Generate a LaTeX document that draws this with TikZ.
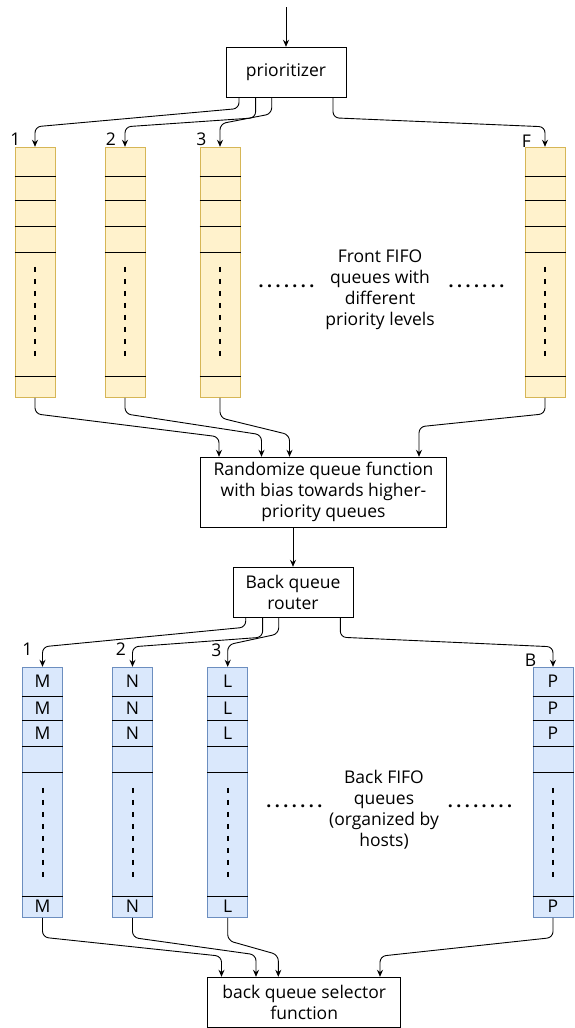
\documentclass[tikz,border=0pt]{standalone}
\usepackage{fontspec}
\setmainfont{Open Sans}
\usetikzlibrary{arrows.meta}
\definecolor{frontfill}{HTML}{FFF2CC}
\definecolor{frontline}{HTML}{D6B656}
\definecolor{backfill}{HTML}{DAE8FC}
\definecolor{backline}{HTML}{6C8EBF}
\begin{document}
\begin{tikzpicture}[x=1pt, y=-1pt,
    every node/.style={font=\fontsize{17.5}{21}\selectfont, inner sep=0pt},
    box/.style={draw, line width=1pt, align=center},
    frontq/.style={draw=frontline, fill=frontfill, line width=1pt, minimum width=40pt, minimum height=250pt},
    backq/.style={draw=backline, fill=backfill, line width=1pt, minimum width=40pt, minimum height=250pt},
    cut/.style={line width=1pt},
    skip/.style={line width=2pt, dash pattern=on 5pt off 7pt},
    dotrow/.style={font=\fontsize{17.5}{21}\selectfont\bfseries\addfontfeature{LetterSpace=20}},
    link/.style={-{Stealth[length=7pt,width=6pt]}, line width=0.9pt, rounded corners=6pt}]
      \useasboundingbox (0,0) rectangle (574,1028);
      % boxes
      \node[box, minimum width=120pt, minimum height=50pt] (prio) at (286,72.3) {prioritizer};
      \node[box, minimum width=246pt, minimum height=70pt] (rand) at (323.5,492.3)
        {Randomize queue function\\with bias towards higher-\\priority queues};
      \node[box, minimum width=120pt, minimum height=50pt] (router) at (293,592.3) {Back queue\\router};
      \node[box, minimum width=193pt, minimum height=50pt] (sel) at (304.2,1002.3)
        {back queue selector\\function};
      \coordinate (src) at (286,7);
      \draw[link] (src) -- (prio);
      \draw[link] (rand.south -| router.north) -- (router.north);
      % front queues
      \foreach \q/\x in {f1/35, f2/125, f3/220, fF/545} {
        \node[frontq] (\q) at (\x,272.3) {};
        \foreach \d in {30,54,80,105.4,230}
          \draw[cut] ([yshift=-\d pt]\q.north west) -- ([yshift=-\d pt]\q.north east);
        \draw[skip] ([yshift=-120pt]\q.north) -- ([yshift=-210pt]\q.north);
      }
      % back queues
      \foreach \q/\x/\c in {b1/42.5/M, b2/132.5/N, b3/227.7/L, bB/553/P} {
        \node[backq] (\q) at (\x,792.3) {};
        \foreach \d in {30,54,80,105.4,230}
          \draw[cut] ([yshift=-\d pt]\q.north west) -- ([yshift=-\d pt]\q.north east);
        \draw[skip] ([yshift=-121pt]\q.north) -- ([yshift=-210pt]\q.north);
        \foreach \d [count=\i] in {14.7,41.7,66.7,239.7}
          \node (\q c\i) at ([yshift=-\d pt]\q.north) {\c};
      }
      % queue numbers
      \node (lf1) at (15.5,139) {1};
      \node (lf2) at (111,139) {2};
      \node (lf3) at (201.5,139) {3};
      \node (lfF) at (526.5,141) {F};
      \node (lb1) at (27.5,649) {1};
      \node (lb2) at (121,649) {2};
      \node (lb3) at (216.5,650) {3};
      \node (lbB) at (530.5,660) {B};
      % middle texts
      \node[align=center] (fronttxt) at (380,290) {Front FIFO\\queues with\\different\\priority levels};
      \node[dotrow] (fdl) at (286.5,286.7) {.......};
      \node[dotrow] (fdr) at (476.5,286.7) {.......};
      \node[align=center] (backtxt) at (384,810) {Back FIFO\\queues\\(organized by\\hosts)};
      \node[dotrow] (bdl) at (294.4,806.7) {.......};
      \node[dotrow] (bdr) at (480,806.7) {........};
      % connectors
      \foreach \q/\dx/\dy/\up in {f1/-47/10.7/20, f2/-30.4/20/20, f3/-14.3/16/23, fF/47/20/20}
        \draw[link] ([xshift=\dx pt]prio.south) -- ++(0,\dy) -- ([yshift=\up pt]\q.north) -- (\q.north);
      \foreach \q/\dx/\dy/\up in {f1/-104.5/16/20, f2/-62/16/22, f3/-34/20/22, fF/95.5/16/30}
        \draw[link] (\q.south) -- ++(0,\dy) -- ([xshift=\dx pt, yshift=\up pt]rand.north) -- ([xshift=\dx pt]rand.north);
      \foreach \q/\dx/\dy/\up in {b1/-47.3/9.4/20, b2/-30.4/19.4/20, b3/-14.3/16/22, bB/47.3/19.4/20}
        \draw[link] ([xshift=\dx pt]router.south) -- ++(0,\dy) -- ([yshift=\up pt]\q.north) -- (\q.north);
      \foreach \q/\dx/\dy/\up in {b1/-82.7/19.4/20.6, b2/-48.2/19.7/22, b3/-25.9/22.7/22, bB/75.8/19.7/20.6}
        \draw[link] (\q.south) -- ++(0,\dy) -- ([xshift=\dx pt, yshift=\up pt]sel.north) -- ([xshift=\dx pt]sel.north);
    \end{tikzpicture}
\end{document}
